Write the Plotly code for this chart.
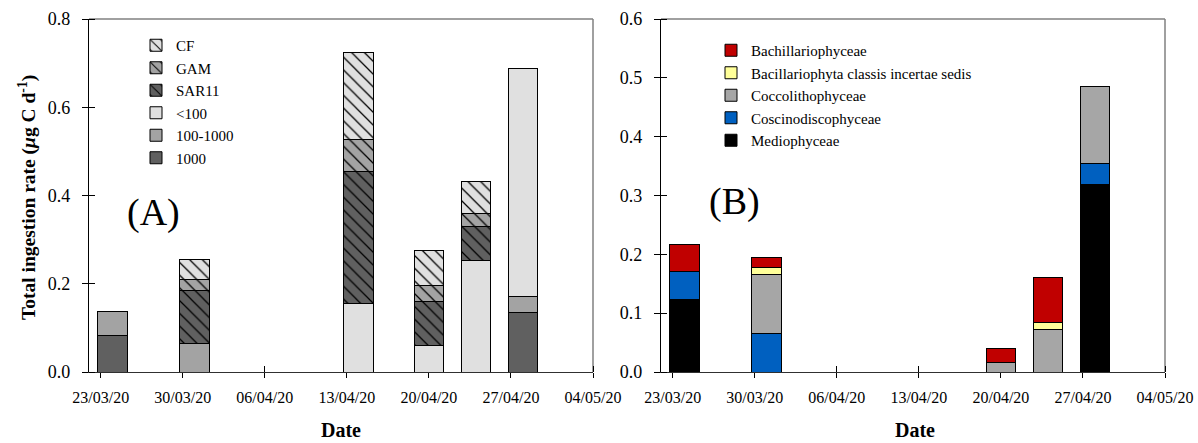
import plotly.graph_objects as go

W, H = 1198, 443

# Sampling dates (bar centres)
dates = ["2020-03-24", "2020-03-31", "2020-04-14", "2020-04-20", "2020-04-24", "2020-04-28"]
tick_dates = ["2020-03-23", "2020-03-30", "2020-04-06", "2020-04-13",
              "2020-04-20", "2020-04-27", "2020-05-04"]

# (A) ingestion by prey group, µg C d-1
a_1000 = [0.083, None, None, None, None, 0.135]
a_100_1000 = [0.053, 0.065, None, None, None, 0.037]
a_lt100 = [None, None, 0.155, 0.060, 0.253, 0.516]
a_sar11 = [None, 0.119, 0.300, 0.099, 0.077, None]
a_gam = [None, 0.025, 0.071, 0.036, 0.029, None]
a_cf = [None, 0.047, 0.198, 0.081, 0.073, None]

# (B) ingestion by diatom / coccolithophore class, µg C d-1
b_medio = [0.124, None, None, None, None, 0.318]
b_coscino = [0.047, 0.065, None, None, None, 0.036]
b_cocco = [None, 0.101, None, 0.017, 0.073, 0.132]
b_incertae = [None, 0.011, None, None, 0.011, None]
b_bachill = [0.046, 0.018, None, 0.023, 0.076, None]

FONT = '"Liberation Serif", "Times New Roman", Times, serif'
BAR_W = 2.5 * 86400000  # bar width in ms

fig = go.Figure()


def add_bar(y, name, color, xa, ya, legend, hatch=False):
    marker = dict(color=color, line=dict(color="black", width=1))
    if hatch:
        marker["pattern"] = dict(shape="\\", fgcolor="black", bgcolor=color,
                                 size=9, solidity=0.14, fillmode="replace")
    fig.add_trace(go.Bar(x=dates, y=y, name=name, width=BAR_W, marker=marker,
                         xaxis=xa, yaxis=ya, legend=legend))


add_bar(a_1000, "1000", "#606060", "x", "y", "legend")
add_bar(a_100_1000, "100-1000", "#a3a3a3", "x", "y", "legend")
add_bar(a_lt100, "<100", "#e0e0e0", "x", "y", "legend")
add_bar(a_sar11, "SAR11", "#606060", "x", "y", "legend", hatch=True)
add_bar(a_gam, "GAM", "#a3a3a3", "x", "y", "legend", hatch=True)
add_bar(a_cf, "CF", "#e0e0e0", "x", "y", "legend", hatch=True)

add_bar(b_medio, "Mediophyceae", "#000000", "x2", "y2", "legend2")
add_bar(b_coscino, "Coscinodiscophyceae", "#0060c0", "x2", "y2", "legend2")
add_bar(b_cocco, "Coccolithophyceae", "#a6a6a6", "x2", "y2", "legend2")
add_bar(b_incertae, "Bacillariophyta classis incertae sedis", "#ffff99", "x2", "y2", "legend2")
add_bar(b_bachill, "Bachillariophyceae", "#c00000", "x2", "y2", "legend2")

# inner half of the cross-style ticks (nudged off the major positions so they are kept)
minor_dates = [f"{d} 00:01" for d in tick_dates]


def xaxis(dom):
    return dict(type="date", domain=dom, range=["2020-03-22", "2020-05-04"],
                automargin=False,
                tickmode="array", tickvals=tick_dates, tickformat="%d/%m/%y",
                ticks="outside", ticklen=5, tickcolor="black", tickwidth=1,
                minor=dict(ticks="inside", tickmode="array", tickvals=minor_dates,
                           ticklen=6, tickcolor="black", tickwidth=1),
                showline=True, linecolor="#303030", linewidth=1.3,
                showgrid=False, zeroline=False, layer="below traces",
                tickfont=dict(family=FONT, size=16, color="black"),
                ticklabelstandoff=6)


def yaxis(rng, vals, anchor):
    return dict(domain=[71 / H, 424 / H], range=rng, anchor=anchor,
                automargin=False,
                tickmode="array", tickvals=vals, tickformat=".1f",
                ticks="outside", ticklen=6, tickcolor="black", tickwidth=1,
                minor=dict(ticks="inside", tickmode="array",
                           tickvals=[v + 1e-7 for v in vals],
                           ticklen=6, tickcolor="black", tickwidth=1),
                showline=True, linecolor="black", linewidth=1.3,
                showgrid=False, zeroline=False, layer="below traces",
                tickfont=dict(family=FONT, size=18, color="black"),
                ticklabelstandoff=8)


shapes = []
for xr, yr in (("x domain", "y domain"), ("x2 domain", "y2 domain")):
    shapes.append(dict(type="line", xref=xr, yref=yr, x0=0, x1=1, y0=1, y1=1,
                       line=dict(color="#808080", width=1.5), layer="below"))
    shapes.append(dict(type="line", xref=xr, yref=yr, x0=1, x1=1, y0=0, y1=1,
                       line=dict(color="#808080", width=1.5), layer="below"))


def px(x, y):
    return x / W, 1 - y / H


annotations = []
for label, (x, y) in (("(A)", (125, 212)), ("(B)", (707, 201))):
    ax_, ay_ = px(x, y)
    annotations.append(dict(text=label, x=ax_, y=ay_, xref="paper", yref="paper",
                            xanchor="left", yanchor="middle", showarrow=False,
                            font=dict(family=FONT, size=38, color="black")))
for x in (341, 915):
    ax_, ay_ = px(x, 430)
    annotations.append(dict(text="<b>Date</b>", x=ax_, y=ay_, xref="paper", yref="paper",
                            xanchor="center", yanchor="middle", showarrow=False,
                            font=dict(family=FONT, size=20, color="black")))
ax_, ay_ = px(27, 198)
annotations.append(dict(text="<b>Total ingestion rate (<i>μ</i>g C d<sup>-1</sup>)</b>",
                        x=ax_, y=ay_, xref="paper", yref="paper", textangle=-90,
                        xanchor="center", yanchor="middle", showarrow=False,
                        font=dict(family=FONT, size=19.5, color="black")))

leg_common = dict(traceorder="reversed", bgcolor="rgba(0,0,0,0)", borderwidth=0,
                  font=dict(family=FONT, size=15, color="black"),
                  xanchor="left", yanchor="top", tracegroupgap=0)

fig.update_layout(
    width=W, height=H,
    margin=dict(l=0, r=0, t=0, b=0, autoexpand=False),
    paper_bgcolor="white", plot_bgcolor="white",
    font=dict(family=FONT, size=16, color="black"),
    barmode="stack",
    xaxis=xaxis([89 / W, 593 / W]),
    yaxis=yaxis([0, 0.8], [0, 0.2, 0.4, 0.6, 0.8], "x"),
    xaxis2=xaxis([661 / W, 1165 / W]) | dict(anchor="y2"),
    yaxis2=yaxis([0, 0.6], [0, 0.1, 0.2, 0.3, 0.4, 0.5, 0.6], "x2"),
    legend=dict(x=px(136, 0)[0], y=px(0, 29)[1], **leg_common),
    legend2=dict(x=px(711, 0)[0], y=px(0, 34)[1], **leg_common),
    shapes=shapes,
    annotations=annotations,
    showlegend=True,
)

fig.write_html("out.html")
